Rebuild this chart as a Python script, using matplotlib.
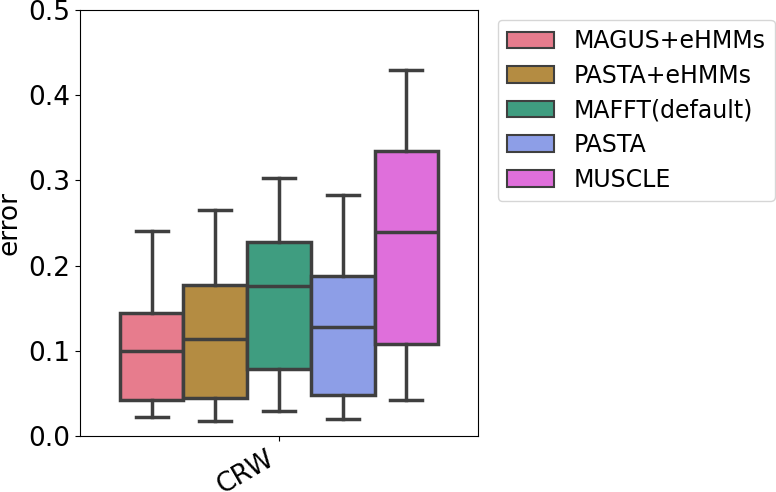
import matplotlib

matplotlib.use("Agg")
from matplotlib import pyplot as plt
from matplotlib.patches import Patch

methods = ["MAGUS+eHMMs", "PASTA+eHMMs", "MAFFT(default)", "PASTA", "MUSCLE"]
colors = ["#e77c8d", "#b48c42", "#3f9d80", "#8d9ee7", "#df6fdb"]
category = "CRW"

whislo = [0.022, 0.018, 0.029, 0.020, 0.042]
q1 = [0.042, 0.045, 0.079, 0.048, 0.108]
med = [0.100, 0.114, 0.176, 0.128, 0.240]
q3 = [0.144, 0.177, 0.228, 0.188, 0.335]
whishi = [0.241, 0.265, 0.303, 0.283, 0.429]

edge = "#3f3f3f"
width = 0.16

fig = plt.figure(figsize=(7.76, 4.92), dpi=100)
ax = fig.add_axes([80 / 776, 1 - 436 / 492, 398 / 776, 426 / 492])

stats = [
    {"whislo": lo, "q1": a, "med": m, "q3": b, "whishi": hi, "fliers": []}
    for lo, a, m, b, hi in zip(whislo, q1, med, q3, whishi)
]
positions = [(i - 2) * width for i in range(len(methods))]
boxes = ax.bxp(
    stats,
    positions=positions,
    widths=width,
    patch_artist=True,
    showfliers=False,
    boxprops=dict(edgecolor=edge, linewidth=2.5),
    medianprops=dict(color=edge, linewidth=2.5),
    whiskerprops=dict(color=edge, linewidth=2.5),
    capprops=dict(color=edge, linewidth=2.5),
    capwidths=width / 2,
)
for patch, color in zip(boxes["boxes"], colors):
    patch.set_facecolor(color)

ax.set_xlim(-0.5, 0.5)
ax.set_ylim(0, 0.5)
ax.set_xticks([0])
ax.set_xticklabels([category], rotation=30, ha="right", fontsize=19)
ax.set_yticks([0, 0.1, 0.2, 0.3, 0.4, 0.5])
ax.set_yticklabels(["0.0", "0.1", "0.2", "0.3", "0.4", "0.5"])
ax.tick_params(axis="y", labelsize=19)
ax.set_ylabel("error", fontsize=19)

handles = [Patch(facecolor=c, edgecolor=edge, linewidth=1.5, label=m) for m, c in zip(methods, colors)]
ax.legend(
    handles=handles,
    loc="upper left",
    bbox_to_anchor=(1.02, 1.005),
    fontsize=17,
    handlelength=2.0,
    handleheight=0.7,
    labelspacing=0.45,
)

fig.savefig("out.png", dpi=100)
